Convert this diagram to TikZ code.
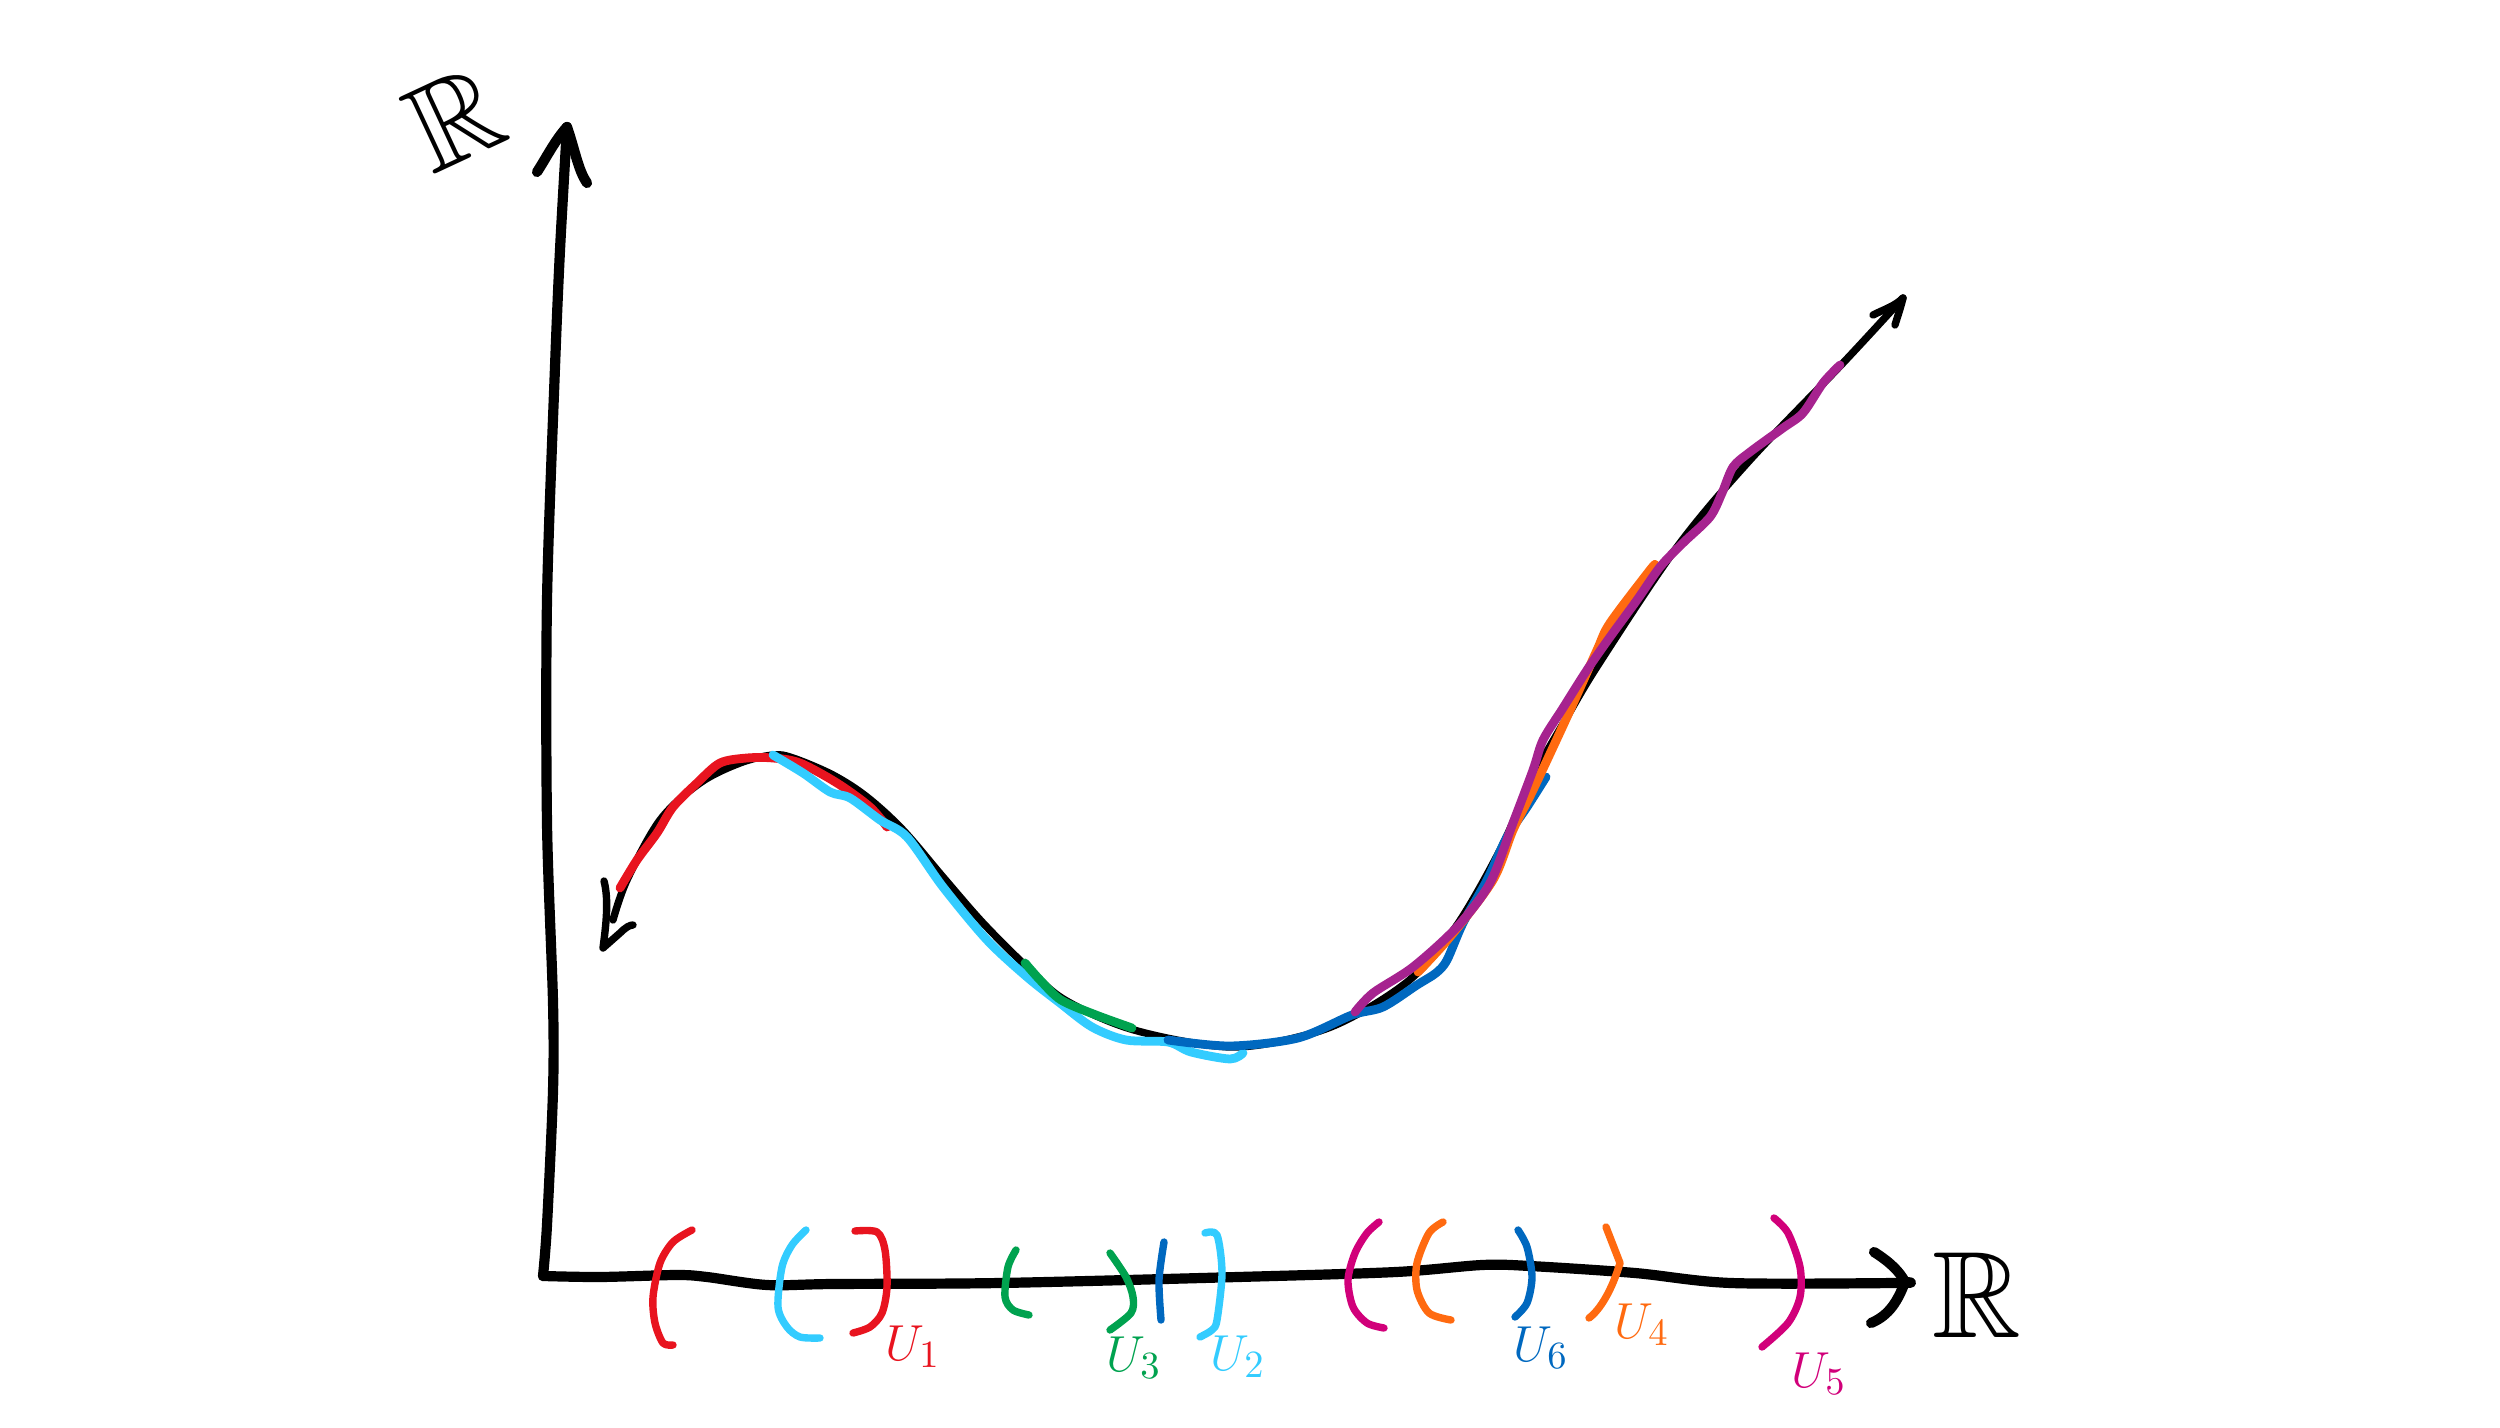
\documentclass[tikz,border=0pt]{standalone}
\usepackage{amssymb}
\definecolor{cred}{HTML}{E8141F}
\definecolor{ccyan}{HTML}{33CCFF}
\definecolor{cgreen}{HTML}{00A24F}
\definecolor{cblue}{HTML}{0068BF}
\definecolor{corange}{HTML}{FF6A10}
\definecolor{cmag}{HTML}{D1007A}
\definecolor{cpurp}{HTML}{A6238F}
\tikzset{
  axisline/.style={line width=2.9pt, line cap=round, line join=round},
  graphline/.style={line width=2.1pt, line cap=round, line join=round},
  patch/.style={line width=2.5pt, line cap=round, line join=round},
  brack/.style={line width=2.1pt, line cap=round, line join=round},
  lbl/.style={inner sep=0pt, font=\fontsize{15}{18}\selectfont},
  rlbl/.style={inner sep=0pt, font=\fontsize{35}{42}\selectfont}
}
\begin{document}
\begin{tikzpicture}[x=0.01cm,y=-0.01cm]
\useasboundingbox (0,0) rectangle (2500,1428);
% axes
\draw[axisline] plot[smooth, tension=0.5] coordinates {(567,127) (560,250) (555,367) (547,600) (547,823) (553,1002) (553,1091) (547,1225) (543,1276)};
\draw[axisline] (567,127) .. controls (555,140) and (545,160) .. (537,172);
\draw[axisline] (567,127) .. controls (575,150) and (578,170) .. (587,183);
\draw[axisline] plot[smooth, tension=0.5] coordinates {(543,1276) (600,1277) (677,1275) (707,1277) (767,1285) (833,1284) (1000,1283) (1238,1277) (1396,1272) (1482,1265) (1530,1266) (1635,1273) (1731,1283) (1898,1283) (1905,1282)};
\draw[axisline] (1874,1252) .. controls (1890,1262) and (1900,1272) .. (1905,1282) .. controls (1898,1300) and (1890,1315) .. (1871,1323);
% graph
\draw[graphline] plot[smooth, tension=0.55] coordinates {(613,920) (627,880) (660,820) (700,783) (740,763) (773,755) (793,758) (833,775) (867,797) (903,830) (943,877) (983,923) (1027,967) (1065,1000) (1134,1030) (1230,1047) (1306,1035) (1356,1015) (1413,977) (1457,925) (1500,850) (1533,777) (1567,717) (1600,662) (1677,547) (1750,460) (1843,363) (1903,298)};
\draw[graphline] (604,881) .. controls (609,900) and (606,925) .. (603,948) -- (620,933) .. controls (626,927) and (630,925) .. (633,925);
\draw[graphline] (1873,315) .. controls (1885,309) and (1895,306) .. (1903,298) .. controls (1900,310) and (1897,318) .. (1895,325);
% patches on the graph
\draw[patch, cred] plot[smooth, tension=0.5] coordinates {(620,888) (637,860) (657,833) (673,807) (697,783) (720,763) (747,758) (773,758) (800,763) (837,783) (870,807) (887,827)};
\draw[patch, ccyan] plot[smooth, tension=0.5] coordinates {(773,755) (803,773) (830,792) (850,798) (880,820) (907,837) (943,887) (987,940) (1027,977) (1060,1003) (1092,1027) (1126,1040) (1168,1042) (1191,1052) (1230,1059) (1243,1053)};
\draw[patch, cgreen] plot[smooth, tension=0.5] coordinates {(1025,963) (1040,980) (1061,1000) (1096,1015) (1132,1028)};
\draw[patch, cblue] plot[smooth, tension=0.5] coordinates {(1168,1040) (1230,1046) (1298,1038) (1352,1015) (1383,1007) (1417,985) (1436,973) (1447,960) (1463,923) (1487,880) (1507,837) (1527,807) (1546,777)};
\draw[patch, corange] plot[smooth, tension=0.5] coordinates {(1418,972) (1450,937) (1493,880) (1513,830) (1533,790) (1567,717) (1597,650) (1610,623) (1650,570) (1655,565)};
\draw[patch, cpurp] plot[smooth, tension=0.5] coordinates {(1355,1012) (1373,993) (1413,967) (1457,927) (1490,883) (1513,823) (1533,770) (1543,740) (1563,708) (1587,670) (1610,637) (1637,600) (1660,567) (1683,543) (1710,517) (1722,493) (1733,467) (1750,452) (1783,428) (1803,413) (1823,383) (1840,365)};
% brackets on the axis
\draw[brack, cred] plot[smooth, tension=0.5] coordinates {(692,1230) (673,1242) (660,1263) (653,1297) (655,1323) (663,1343) (673,1345)};
\draw[brack, ccyan] plot[smooth, tension=0.5] coordinates {(806,1230) (792,1245) (782,1267) (778,1307) (787,1327) (800,1337) (820,1338)};
\draw[brack, cred] plot[smooth, tension=0.5] coordinates {(855,1231) (877,1232) (885,1250) (887,1287) (882,1313) (870,1327) (853,1333)};
\draw[brack, cgreen] plot[smooth, tension=0.5] coordinates {(1016,1250) (1008,1267) (1005,1297) (1013,1310) (1029,1315)};
\draw[brack, cgreen] plot[smooth, tension=0.5] coordinates {(1110,1253) (1126,1277) (1133,1297) (1131,1313) (1110,1330)};
\draw[brack, cblue] plot[smooth, tension=0.5] coordinates {(1164,1242) (1159,1280) (1161,1320)};
\draw[brack, ccyan] plot[smooth, tension=0.5] coordinates {(1205,1233) (1217,1235) (1222,1273) (1217,1320) (1212,1330) (1200,1337)};
\draw[brack, cmag] plot[smooth, tension=0.5] coordinates {(1379,1222) (1367,1233) (1355,1253) (1348,1280) (1353,1307) (1367,1323) (1384,1328)};
\draw[brack, corange] plot[smooth, tension=0.5] coordinates {(1443,1222) (1429,1233) (1417,1263) (1417,1290) (1429,1313) (1451,1320)};
\draw[brack, cblue] plot[smooth, tension=0.5] coordinates {(1518,1230) (1527,1247) (1532,1277) (1527,1303) (1515,1317)};
\draw[brack, corange] (1606,1227) -- (1620,1263) .. controls (1612,1290) and (1600,1310) .. (1589,1318);
\draw[brack, cmag] plot[smooth, tension=0.5] coordinates {(1774,1218) (1788,1233) (1800,1267) (1800,1297) (1788,1323) (1762,1347)};
% labels
\node[lbl, cred, anchor=north west] (u1) at (885,1325) {$U_1$};
\node[lbl, cgreen, anchor=north west] (u3) at (1106,1336) {$U_3$};
\node[lbl, ccyan, anchor=north west] (u2) at (1210,1335) {$U_2$};
\node[lbl, cblue, anchor=north west] (u6) at (1513,1326) {$U_6$};
\node[lbl, corange, anchor=north west] (u4) at (1614,1303) {$U_4$};
\node[lbl, cmag, anchor=north west] (u5) at (1791,1352) {$U_5$};
\node[rlbl] (rx) at (1977,1295) {$\mathbb{R}$};
\node[rlbl, rotate=25] (ry) at (455,118) {$\mathbb{R}$};
\end{tikzpicture}
\end{document}
